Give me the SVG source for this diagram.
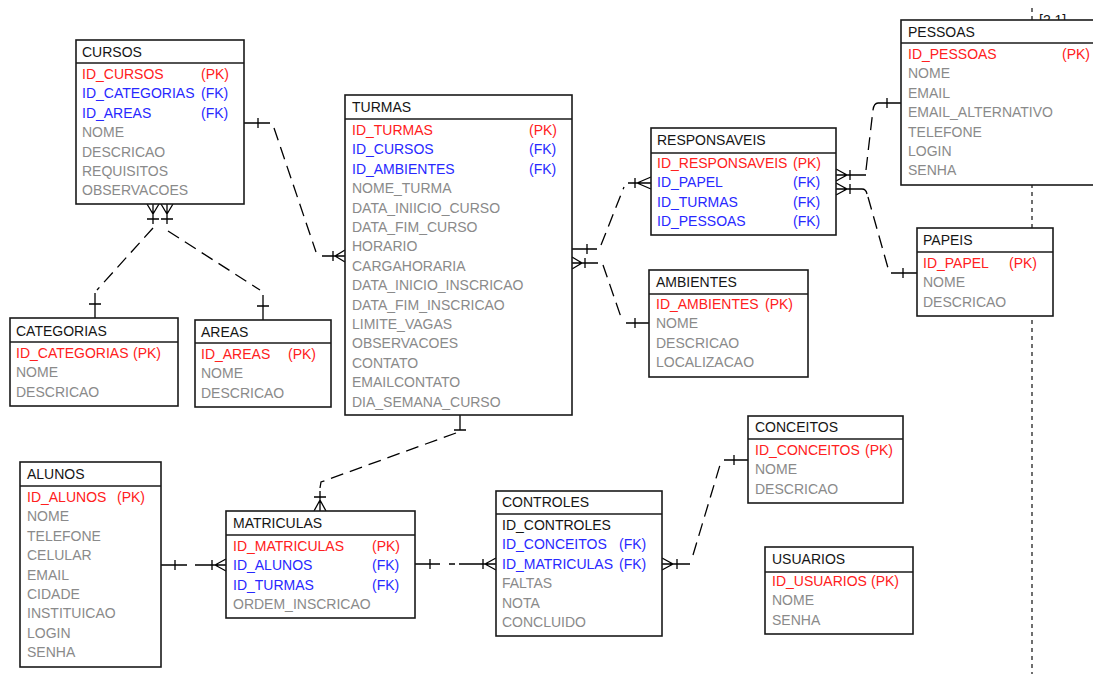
<svg xmlns="http://www.w3.org/2000/svg" width="1093" height="674" viewBox="0 0 1093 674">
<style>
.bg{fill:#ffffff}
.box{fill:#ffffff;stroke:#1a1a1a;stroke-width:1.6}
.sep{stroke:#1a1a1a;stroke-width:1.6}
text{font-family:"Liberation Sans",Arial,sans-serif;font-size:14px}
.h{fill:#151515}
.pk{fill:#ff2020}
.fk{fill:#2828ff}
.at{fill:#8a8a8a}
.c{stroke:#000;fill:none;stroke-width:1.3}
.d{stroke:#000;fill:none;stroke-width:1.3;stroke-dasharray:13 7}
.v{stroke:#222;fill:none;stroke-width:1.3;stroke-dasharray:4 4}
</style>
<rect class="bg" x="0" y="0" width="1093" height="674"/>
<g id="frame">
<path class="v" d="M1032,8 V674"/>
<text x="1039" y="25" class="h">[2,1]</text>
</g>
<g id="connectors">
<path class="c" d="M244,123 H270 M258,118 V128"/>
<path class="d" d="M274,128 L316,252"/>
<path class="c" d="M322,256 H345 M333,251 V261 M335,256 L345,250 M335,256 L345,262"/>
<path class="c" d="M153,204 V224 M147,204 L153,214 L159,204 M147,219 H159"/>
<path class="d" d="M153,228 L97,290"/>
<path class="c" d="M95,293 V318 M89,304 H101"/>
<path class="c" d="M167,204 V224 M161,204 L167,214 L173,204 M161,219 H173"/>
<path class="d" d="M168,231 L260,290"/>
<path class="c" d="M263,295 V320 M257,306 H269"/>
<path class="c" d="M572,249 H597 M587,244 V254"/>
<path class="d" d="M601,245 L624,187"/>
<path class="c" d="M628,183 H651 M635,178 V188 M637,183 L651,177 M637,183 L651,189"/>
<path class="c" d="M572,263 H598 M572,257 L582,263 L572,269 M585,258 V268"/>
<path class="d" d="M603,265 L622,320"/>
<path class="c" d="M626,323 H649 M635,318 V328"/>
<path class="c" d="M836,175 H866 M836,169 L847,175 L836,181 M850,170 V180"/>
<path class="d" d="M866,170 Q870,135 873,110 Q874,103 878,103"/>
<path class="c" d="M878,103 H901 M887,98 V108"/>
<path class="c" d="M836,189 H862 Q866,189 867,194 M836,183 L847,189 L836,195 M850,184 V194"/>
<path class="d" d="M868,197 L888,268"/>
<path class="c" d="M891,273 H917 M903,268 V278"/>
<path class="c" d="M460,415 V430 M454,430 H466"/>
<path class="d" d="M456,433 L321,482 L320,488"/>
<path class="c" d="M320,491 V511 M314,497 H326 M314,511 L320,500 L326,511"/>
<path class="c" d="M161,565 H187 M175,560 V570"/>
<path class="c" d="M195,565 H226 M212,560 V570 M215,565 L226,559 M215,565 L226,571"/>
<path class="c" d="M415,564 H440 M430,559 V569"/>
<path class="c" d="M449,564 H455 M459,564 H496 M483,559 V569 M485,564 L496,558 M485,564 L496,570"/>
<path class="c" d="M662,564 H690 M662,558 L673,564 L662,570 M677,559 V569"/>
<path class="d" d="M693,555 L720,465"/>
<path class="c" d="M724,460 H748 M734,455 V465"/>
</g>
<g id="cursos">
<rect class="box" x="76" y="40" width="168" height="164"/>
<path class="sep" d="M76,63 H244"/>
<text x="82" y="57" class="h">CURSOS</text>
<text x="82" y="79" class="pk">ID_CURSOS</text><text x="201" y="79" class="pk">(PK)</text>
<text x="82" y="98.4" class="fk">ID_CATEGORIAS</text><text x="201" y="98.4" class="fk">(FK)</text>
<text x="82" y="117.8" class="fk">ID_AREAS</text><text x="201" y="117.8" class="fk">(FK)</text>
<text x="82" y="137.2" class="at">NOME</text>
<text x="82" y="156.6" class="at">DESCRICAO</text>
<text x="82" y="176" class="at">REQUISITOS</text>
<text x="82" y="195.4" class="at">OBSERVACOES</text>
</g>
<g id="categorias">
<rect class="box" x="10" y="318" width="168" height="88"/>
<path class="sep" d="M10,342 H178"/>
<text x="16" y="336" class="h">CATEGORIAS</text>
<text x="16" y="358" class="pk">ID_CATEGORIAS</text><text x="133" y="358" class="pk">(PK)</text>
<text x="16" y="377.4" class="at">NOME</text>
<text x="16" y="396.8" class="at">DESCRICAO</text>
</g>
<g id="areas">
<rect class="box" x="195" y="320" width="136" height="87"/>
<path class="sep" d="M195,343 H331"/>
<text x="201" y="337" class="h">AREAS</text>
<text x="201" y="359" class="pk">ID_AREAS</text><text x="288" y="359" class="pk">(PK)</text>
<text x="201" y="378.4" class="at">NOME</text>
<text x="201" y="397.8" class="at">DESCRICAO</text>
</g>
<g id="turmas">
<rect class="box" x="345" y="95" width="227" height="320"/>
<path class="sep" d="M345,119 H572"/>
<text x="352" y="112" class="h">TURMAS</text>
<text x="352" y="135" class="pk">ID_TURMAS</text><text x="529" y="135" class="pk">(PK)</text>
<text x="352" y="154.4" class="fk">ID_CURSOS</text><text x="529" y="154.4" class="fk">(FK)</text>
<text x="352" y="173.8" class="fk">ID_AMBIENTES</text><text x="529" y="173.8" class="fk">(FK)</text>
<text x="352" y="193.2" class="at">NOME_TURMA</text>
<text x="352" y="212.6" class="at">DATA_INIICIO_CURSO</text>
<text x="352" y="232" class="at">DATA_FIM_CURSO</text>
<text x="352" y="251.4" class="at">HORARIO</text>
<text x="352" y="270.8" class="at">CARGAHORARIA</text>
<text x="352" y="290.2" class="at">DATA_INICIO_INSCRICAO</text>
<text x="352" y="309.6" class="at">DATA_FIM_INSCRICAO</text>
<text x="352" y="329" class="at">LIMITE_VAGAS</text>
<text x="352" y="348.4" class="at">OBSERVACOES</text>
<text x="352" y="367.8" class="at">CONTATO</text>
<text x="352" y="387.2" class="at">EMAILCONTATO</text>
<text x="352" y="406.6" class="at">DIA_SEMANA_CURSO</text>
</g>
<g id="responsaveis">
<rect class="box" x="651" y="128" width="185" height="107"/>
<path class="sep" d="M651,153 H836"/>
<text x="657" y="145" class="h">RESPONSAVEIS</text>
<text x="657" y="168" class="pk">ID_RESPONSAVEIS</text><text x="793" y="168" class="pk">(PK)</text>
<text x="657" y="187.4" class="fk">ID_PAPEL</text><text x="793" y="187.4" class="fk">(FK)</text>
<text x="657" y="206.8" class="fk">ID_TURMAS</text><text x="793" y="206.8" class="fk">(FK)</text>
<text x="657" y="226.2" class="fk">ID_PESSOAS</text><text x="793" y="226.2" class="fk">(FK)</text>
</g>
<g id="ambientes">
<rect class="box" x="649" y="270" width="159" height="107"/>
<path class="sep" d="M649,294 H808"/>
<text x="656" y="287" class="h">AMBIENTES</text>
<text x="656" y="309" class="pk">ID_AMBIENTES</text><text x="765" y="309" class="pk">(PK)</text>
<text x="656" y="328.4" class="at">NOME</text>
<text x="656" y="347.8" class="at">DESCRICAO</text>
<text x="656" y="367.2" class="at">LOCALIZACAO</text>
</g>
<g id="pessoas">
<rect class="box" x="901" y="20" width="200" height="165"/>
<path class="sep" d="M901,43 H1101"/>
<text x="908" y="37" class="h">PESSOAS</text>
<text x="908" y="59" class="pk">ID_PESSOAS</text><text x="1062" y="59" class="pk">(PK)</text>
<text x="908" y="78.4" class="at">NOME</text>
<text x="908" y="97.8" class="at">EMAIL</text>
<text x="908" y="117.2" class="at">EMAIL_ALTERNATIVO</text>
<text x="908" y="136.6" class="at">TELEFONE</text>
<text x="908" y="156" class="at">LOGIN</text>
<text x="908" y="175.4" class="at">SENHA</text>
</g>
<g id="papeis">
<rect class="box" x="917" y="228" width="136" height="88"/>
<path class="sep" d="M917,252 H1053"/>
<text x="923" y="245" class="h">PAPEIS</text>
<text x="923" y="268" class="pk">ID_PAPEL</text><text x="1009" y="268" class="pk">(PK)</text>
<text x="923" y="287.4" class="at">NOME</text>
<text x="923" y="306.8" class="at">DESCRICAO</text>
</g>
<g id="alunos">
<rect class="box" x="20" y="462" width="141" height="205"/>
<path class="sep" d="M20,486 H161"/>
<text x="27" y="479" class="h">ALUNOS</text>
<text x="27" y="502" class="pk">ID_ALUNOS</text><text x="117" y="502" class="pk">(PK)</text>
<text x="27" y="521.4" class="at">NOME</text>
<text x="27" y="540.8" class="at">TELEFONE</text>
<text x="27" y="560.2" class="at">CELULAR</text>
<text x="27" y="579.6" class="at">EMAIL</text>
<text x="27" y="599" class="at">CIDADE</text>
<text x="27" y="618.4" class="at">INSTITUICAO</text>
<text x="27" y="637.8" class="at">LOGIN</text>
<text x="27" y="657.2" class="at">SENHA</text>
</g>
<g id="matriculas">
<rect class="box" x="226" y="511" width="189" height="107"/>
<path class="sep" d="M226,535 H415"/>
<text x="233" y="528" class="h">MATRICULAS</text>
<text x="233" y="551" class="pk">ID_MATRICULAS</text><text x="372" y="551" class="pk">(PK)</text>
<text x="233" y="570.4" class="fk">ID_ALUNOS</text><text x="372" y="570.4" class="fk">(FK)</text>
<text x="233" y="589.8" class="fk">ID_TURMAS</text><text x="372" y="589.8" class="fk">(FK)</text>
<text x="233" y="609.2" class="at">ORDEM_INSCRICAO</text>
</g>
<g id="controles">
<rect class="box" x="496" y="491" width="166" height="145"/>
<path class="sep" d="M496,514 H662"/>
<text x="502" y="507" class="h">CONTROLES</text>
<text x="502" y="530" class="h">ID_CONTROLES</text>
<text x="502" y="549.4" class="fk">ID_CONCEITOS</text><text x="619" y="549.4" class="fk">(FK)</text>
<text x="502" y="568.8" class="fk">ID_MATRICULAS</text><text x="619" y="568.8" class="fk">(FK)</text>
<text x="502" y="588.2" class="at">FALTAS</text>
<text x="502" y="607.6" class="at">NOTA</text>
<text x="502" y="627" class="at">CONCLUIDO</text>
</g>
<g id="conceitos">
<rect class="box" x="748" y="416" width="155" height="87"/>
<path class="sep" d="M748,439 H903"/>
<text x="755" y="432" class="h">CONCEITOS</text>
<text x="755" y="455" class="pk">ID_CONCEITOS</text><text x="865" y="455" class="pk">(PK)</text>
<text x="755" y="474.4" class="at">NOME</text>
<text x="755" y="493.8" class="at">DESCRICAO</text>
</g>
<g id="usuarios">
<rect class="box" x="765" y="547" width="148" height="87"/>
<path class="sep" d="M765,572 H913"/>
<text x="772" y="564" class="h">USUARIOS</text>
<text x="772" y="586" class="pk">ID_USUARIOS</text><text x="871" y="586" class="pk">(PK)</text>
<text x="772" y="605.4" class="at">NOME</text>
<text x="772" y="624.8" class="at">SENHA</text>
</g>
</svg>
